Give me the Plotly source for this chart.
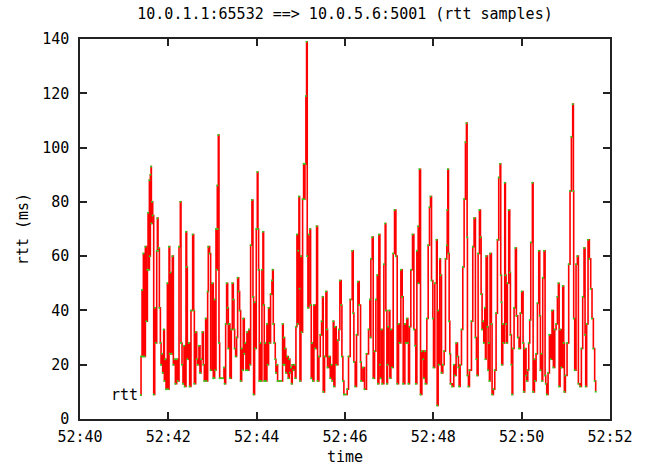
import plotly.graph_objects as go

# sample times in seconds after 52:00 (tick 52:40 == 40)
times = [
    41.375, 41.382, 41.405, 41.42, 41.435, 41.458, 41.48, 41.503, 41.526, 41.541,
    41.556, 41.571, 41.578, 41.593, 41.609, 41.616, 41.631, 41.646, 41.669, 41.692,
    41.714, 41.737, 41.752, 41.767, 41.782, 41.797, 41.82, 41.835, 41.857, 41.872,
    41.895, 41.91, 41.933, 41.948, 41.978, 41.993, 42.016, 42.031, 42.046, 42.069,
    42.091, 42.114, 42.144, 42.159, 42.189, 42.212, 42.242, 42.272, 42.287, 42.31,
    42.332, 42.355, 42.37, 42.40, 42.415, 42.43, 42.461, 42.483, 42.513, 42.551,
    42.574, 42.589, 42.619, 42.642, 42.664, 42.694, 42.717, 42.74, 42.77, 42.792,
    42.815, 42.845, 42.86, 42.89, 42.905, 42.935, 42.958, 42.996, 43.018,
    43.034, 43.049, 43.064, 43.079, 43.094, 43.109, 43.117, 43.132, 43.147, 43.162,
    43.2, 43.237, 43.26, 43.275, 43.298, 43.32, 43.343, 43.358, 43.373, 43.395,
    43.426, 43.448, 43.471, 43.486, 43.501, 43.524, 43.546, 43.569, 43.592, 43.614,
    43.637, 43.66, 43.682, 43.697, 43.72, 43.742, 43.757, 43.78, 43.795, 43.825,
    43.848, 43.863, 43.893, 43.916, 43.931, 43.953, 43.969, 43.991, 44.014, 44.029,
    44.044, 44.059, 44.082, 44.097, 44.119, 44.142, 44.157, 44.172, 44.195, 44.21,
    44.232, 44.248, 44.27, 44.293, 44.315, 44.346, 44.361, 44.376, 44.398, 44.421,
    44.436, 44.459, 44.474, 44.519, 44.557, 44.587, 44.602, 44.617, 44.632, 44.647,
    44.662, 44.693, 44.715, 44.738, 44.753, 44.775, 44.79,
    44.806, 44.836, 44.859, 44.874, 44.889, 44.912, 44.927, 44.942, 44.957, 44.972,
    44.98, 45.002, 45.017, 45.04, 45.063, 45.078, 45.093, 45.115, 45.13, 45.145,
    45.161, 45.183, 45.206, 45.221, 45.236, 45.251, 45.274, 45.296, 45.326, 45.357,
    45.379, 45.409, 45.44, 45.47, 45.492, 45.507, 45.537, 45.568, 45.59, 45.605,
    45.643, 45.666, 45.696, 45.711, 45.734, 45.749, 45.771, 45.801, 45.839, 45.862,
    45.884, 45.914, 45.93, 45.952, 45.975, 46.02, 46.05, 46.08, 46.118, 46.163,
    46.186, 46.201, 46.231, 46.261, 46.292, 46.322, 46.352, 46.367, 46.405, 46.442,
    46.487, 46.533, 46.563, 46.578,
    46.586, 46.616, 46.639, 46.669, 46.699, 46.73, 46.745, 46.767, 46.79, 46.805,
    46.828, 46.843, 46.88, 46.91, 46.925, 46.948, 46.963, 46.978, 47.001, 47.016,
    47.039, 47.061, 47.091, 47.122, 47.152, 47.182, 47.212, 47.235, 47.265, 47.295,
    47.318, 47.355, 47.378, 47.401, 47.423, 47.438, 47.461, 47.491, 47.529, 47.559,
    47.589, 47.604, 47.627, 47.657, 47.664, 47.687, 47.71, 47.74, 47.77, 47.785,
    47.808, 47.823, 47.853, 47.883, 47.913, 47.936, 47.959, 47.989, 48.004, 48.034,
    48.072, 48.087, 48.109, 48.124, 48.147, 48.162, 48.185, 48.215, 48.245, 48.275,
    48.305,
    48.315, 48.328, 48.343, 48.358, 48.373, 48.388, 48.426, 48.463, 48.486, 48.516,
    48.546, 48.569, 48.584, 48.607, 48.637, 48.667, 48.697, 48.727, 48.75, 48.765,
    48.772, 48.795, 48.818, 48.863, 48.893, 48.923, 48.953, 48.976, 48.991, 49.014,
    49.044, 49.067, 49.082, 49.104, 49.127, 49.142, 49.165, 49.18, 49.195, 49.225,
    49.24, 49.255, 49.27, 49.285, 49.315, 49.33, 49.361, 49.391, 49.421, 49.451,
    49.481, 49.511, 49.526, 49.542, 49.549, 49.572, 49.587, 49.617, 49.632, 49.647,
    49.662, 49.677, 49.707, 49.73, 49.745, 49.768, 49.783, 49.798, 49.828, 49.858,
    49.881, 49.911, 49.941, 49.971, 50.001, 50.032, 50.047, 50.069, 50.099,
    50.115, 50.138, 50.16, 50.183, 50.206, 50.243, 50.259, 50.289, 50.304, 50.326,
    50.357, 50.387, 50.409, 50.424, 50.447, 50.462, 50.477, 50.507, 50.53, 50.545,
    50.568, 50.598, 50.628, 50.658, 50.688, 50.718, 50.749, 50.779, 50.809, 50.832,
    50.848, 50.87, 50.899, 50.93, 50.952, 50.967, 50.99, 51.028, 51.065, 51.095,
    51.126, 51.156, 51.171, 51.178, 51.201, 51.231, 51.261, 51.284, 51.322, 51.352,
    51.382, 51.412, 51.435, 51.45, 51.472, 51.503, 51.533, 51.563, 51.593, 51.623,
    51.653, 51.676,
]

rtt_ms = [
    8.8, 23, 47.5, 23, 61, 23, 63.5, 36, 55, 76,
    55, 88, 60, 90, 93, 72, 80, 75, 9, 41,
    28, 62, 74, 62, 63, 41, 28, 20, 24, 17,
    33, 14, 22, 11, 50, 11, 63.5, 24, 54, 24,
    60, 20, 22, 13, 22, 14, 63.5, 80, 28, 20,
    13, 27, 12, 69, 56, 22, 28, 12, 40, 68,
    40, 13, 32, 22, 20, 27, 17, 22, 32, 20,
    14, 37, 14, 47, 63.5, 61, 18, 50, 15,
    15, 44, 18, 70, 55, 86, 70, 104.6, 28, 15,
    15, 15, 19, 13, 35, 50, 41, 26, 35, 15,
    33, 50, 44, 33, 26, 23, 30, 52, 47, 40,
    14, 26, 18, 37, 24, 28, 18, 32, 18, 33,
    20, 64, 80.7, 45, 9, 43, 26, 70, 91, 70,
    55, 14, 28, 14, 55, 69, 42, 14, 28, 14,
    35, 20, 41, 28, 46, 51, 55, 35, 28, 22,
    17, 20, 14, 14, 14, 35, 20, 30, 20, 26,
    17, 23, 15, 22, 17, 19, 13,
    20, 18, 20, 15, 34, 68, 35, 62, 82, 48,
    14, 60, 32, 81, 94, 81, 94, 119, 139, 60,
    41, 68, 70, 42, 15, 28, 14, 42, 26, 71,
    14, 23, 31, 36, 45, 10, 23, 47, 33, 19,
    23, 15, 20, 14, 36, 12, 34, 20, 29, 33,
    51, 42, 23, 14, 9, 9, 11, 23, 44, 62,
    39, 21, 12, 31, 50.6, 42, 21, 14, 19, 11,
    24, 33, 44, 30,
    59, 67, 15, 25, 44, 53, 13, 68, 20, 15,
    33, 13, 57, 72, 40, 13, 20, 34, 40, 15,
    33, 19, 61, 77, 60, 13, 35, 28, 55, 45,
    13, 35, 28, 37, 28, 13, 34, 55, 68, 33,
    27, 13, 62, 71, 50, 92, 9, 25, 22, 15,
    25, 13, 37, 64, 78, 82, 51, 37, 19, 50,
    66, 5, 40, 20, 59, 53, 17, 20, 25, 59,
    64,
    77, 92, 61, 36, 24, 13, 12, 20, 16, 28,
    23, 19, 12, 20, 33, 56, 81, 102, 109, 67,
    16, 12, 18, 36, 63.5, 74, 30, 22, 16, 61,
    77, 67, 46, 33, 36, 28, 41, 22, 60, 34,
    18, 28, 14, 61, 35, 9, 11, 18, 39, 66,
    89, 94, 53, 43, 20, 35, 28, 87, 53, 35,
    28, 50, 77, 54, 31, 20, 9, 26, 41, 63,
    38, 30, 26, 39, 47, 28, 10, 26, 16,
    14, 18, 28, 36.5, 65, 87, 10, 22, 14, 24,
    42.6, 62, 38, 18, 24, 14, 52, 62, 16, 13,
    9, 17, 31, 22, 40, 19, 33, 35, 45, 50,
    12, 33, 19, 49, 28, 10, 16, 28, 57, 84,
    104, 116, 84, 37, 18, 57, 60, 13, 12, 26,
    45, 63, 31, 12, 35, 66, 59, 48, 37, 26,
    14, 10,
]

tick_vals = [40, 42, 44, 46, 48, 50, 52]
tick_text = ["52:40", "52:42", "52:44", "52:46", "52:48", "52:50", "52:52"]
y_ticks = [0, 20, 40, 60, 80, 100, 120, 140]

FONT = "DejaVu Sans Mono"

fig = go.Figure()
fig.add_trace(go.Scatter(
    x=times, y=rtt_ms, mode="lines+markers",
    line=dict(color="#ff0000", width=1.6, shape="hv"),
    marker=dict(color="#22dd22", size=2, line=dict(width=0)),
    showlegend=False, hoverinfo="skip",
))

fig.add_annotation(
    x=times[0], y=rtt_ms[0], text="rtt", showarrow=False,
    xanchor="right", yanchor="middle", xshift=-1,
    font=dict(family=FONT, size=15, color="black"),
)

fig.update_layout(
    width=649, height=466,
    margin=dict(l=80, r=39, t=39, b=47),
    paper_bgcolor="white", plot_bgcolor="white",
    font=dict(family=FONT, size=15, color="black"),
    title=dict(text="10.0.1.1:65532 ==> 10.0.5.6:5001 (rtt samples)",
               xref="paper", x=0.5, xanchor="center", y=0.97, yanchor="middle",
               font=dict(family=FONT, size=15, color="black")),
)
fig.update_xaxes(
    range=[40, 52], tickvals=tick_vals, ticktext=tick_text,
    ticks="inside", ticklen=7, tickwidth=1.5, tickcolor="#222",
    ticklabelstandoff=3, automargin=False,
    showline=True, linecolor="#222", linewidth=1.5, mirror="ticks",
    showgrid=False, zeroline=False,
    title=dict(text="time", standoff=7, font=dict(family=FONT, size=15)),
)
fig.update_yaxes(
    range=[0, 140], tickvals=y_ticks,
    ticks="inside", ticklen=7, tickwidth=1.5, tickcolor="#222",
    ticklabelstandoff=6, automargin=False,
    showline=True, linecolor="#222", linewidth=1.5, mirror="ticks",
    showgrid=False, zeroline=False,
    title=dict(text="rtt (ms)", standoff=10, font=dict(family=FONT, size=15)),
)

fig.write_html("out.html")
